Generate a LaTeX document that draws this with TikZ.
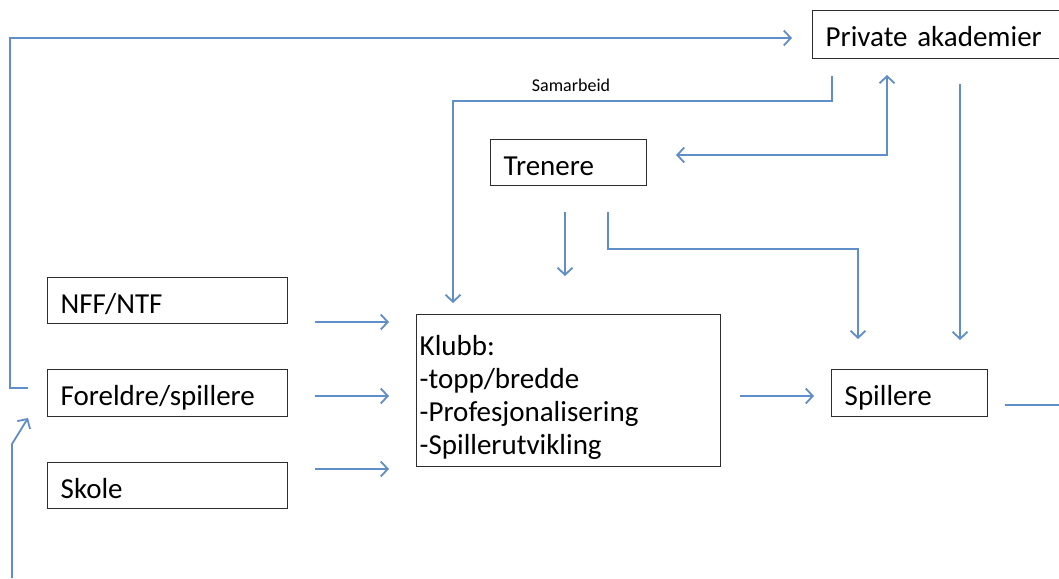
\documentclass[tikz,border=0pt]{standalone}
\usepackage{fontspec}
\setmainfont{Carlito}
\usetikzlibrary{arrows.meta}
\definecolor{arr}{RGB}{96,142,200}
\definecolor{bord}{RGB}{45,45,45}
\begin{document}
\begin{tikzpicture}[x=1pt,y=-1pt,
  box/.style={draw=bord, line width=1.4pt, rectangle, anchor=north west, align=left,
    inner xsep=13pt, inner ysep=0pt, font=\fontsize{29}{33}\selectfont,
    text height=26pt, text depth=1.4pt},
  conn/.style={draw=arr, line width=1.8pt, line join=miter,
    -{Straight Barb[length=7pt,width=15pt,line width=1.8pt]}},
  bconn/.style={draw=arr, line width=1.8pt, line join=miter,
    {Straight Barb[length=7pt,width=15pt,line width=1.8pt]}-{Straight Barb[length=7pt,width=15pt,line width=1.8pt]}},
  plain/.style={draw=arr, line width=1.8pt, line join=miter},
]
\useasboundingbox (0,0) rectangle (1059,578);
% boxes
\node[box, text width=234pt, minimum height=48pt] (priv) at (812,10) {Private akademier};
\node[box, text width=130pt, minimum height=46pt] (tren) at (490,139) {Trenere};
\node[box, text width=214pt, minimum height=46pt] (nff) at (47,277) {NFF/NTF};
\node[box, text width=214pt, minimum height=47pt] (fore) at (47,369) {Foreldre/spillere};
\node[box, text width=214pt, minimum height=46pt] (skole) at (47,462) {Skole};
\node[box, text width=298pt, minimum height=152pt, inner xsep=3pt,
  text height=35pt, text depth=106pt] (klubb) at (416,314)
  {Klubb:\\-topp/bredde\\-Profesjonalisering\\-Spillerutvikling};
\node[box, text width=130pt, minimum height=47pt] (spill) at (831,369) {Spillere};
\node[font=\fontsize{18}{20}\selectfont, inner sep=0pt] (samlbl) at (571,85) {Samarbeid};
% coordinates
\coordinate (topA) at (28,388);
\coordinate (topB) at (10,388);
\coordinate (topC) at (10,38);
\coordinate (topD) at (792,38);
\coordinate (botA) at (12,578);
\coordinate (botB) at (12,444);
\coordinate (botC) at (28,418);
\coordinate (samA) at (832,76);
\coordinate (samB) at (832,101);
\coordinate (samC) at (453,101);
\coordinate (samD) at (453,303);
\coordinate (pcA) at (676,155);
\coordinate (pcB) at (887,155);
\coordinate (pcC) at (887,75);
\coordinate (pdA) at (960,84);
\coordinate (pdB) at (960,340);
\coordinate (tdA) at (565,212);
\coordinate (tdB) at (565,276);
\coordinate (tsA) at (608,212);
\coordinate (tsB) at (608,249);
\coordinate (tsC) at (858,249);
\coordinate (tsD) at (858,339);
\coordinate (nA) at (315,322);
\coordinate (nB) at (389,322);
\coordinate (fA) at (315,396);
\coordinate (fB) at (389,396);
\coordinate (sA) at (315,469);
\coordinate (sB) at (389,469);
\coordinate (kA) at (740,396);
\coordinate (kB) at (814,396);
\coordinate (oA) at (1005,405);
\coordinate (oB) at (1059,405);
% connectors
\draw[conn] (topA) -- (topB) -- (topC) -- (topD);
\draw[conn] (botA) -- (botB) -- (botC);
\draw[conn] (samA) -- (samB) -- (samC) -- (samD);
\draw[bconn] (pcA) -- (pcB) -- (pcC);
\draw[conn] (pdA) -- (pdB);
\draw[conn] (tdA) -- (tdB);
\draw[conn] (tsA) -- (tsB) -- (tsC) -- (tsD);
\draw[conn] (nA) -- (nB);
\draw[conn] (fA) -- (fB);
\draw[conn] (sA) -- (sB);
\draw[conn] (kA) -- (kB);
\draw[plain] (oA) -- (oB);
\end{tikzpicture}
\end{document}
